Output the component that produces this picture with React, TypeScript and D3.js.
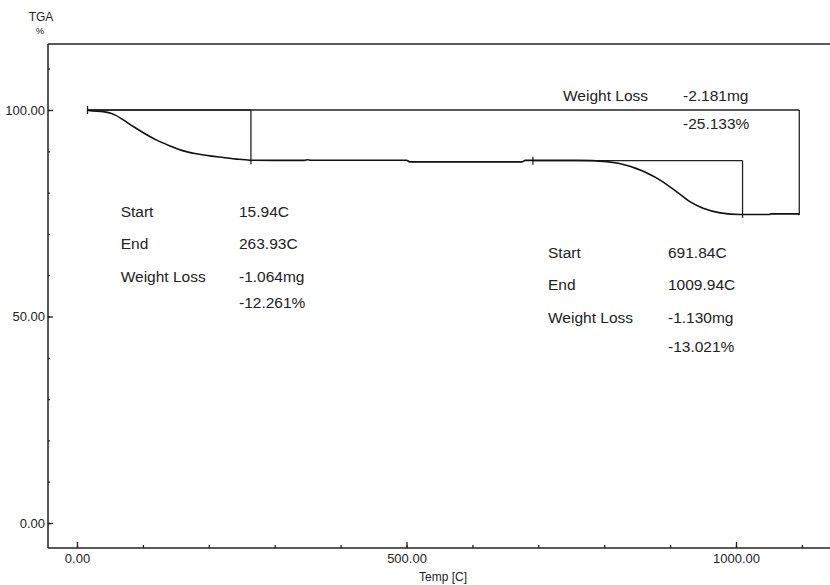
import * as d3 from "d3";
import { useRef, useEffect } from "react";

// TGA curve: temperature [C] and weight [%]
const temps = [
  15.94, 19.7, 39.9, 55.1, 70.3, 85.4, 100.6, 120.9, 141.1, 161.3, 181.6, 201.8,
  222, 242.3, 262.5, 300, 345, 350, 355, 500, 505, 675, 680, 760, 804, 839, 880,
  910, 930, 950, 976, 1006, 1050, 1053, 1094, 1096,
];
const weights = [
  100, 99.8, 99.6, 99.0, 97.6, 96.0, 94.5, 92.7, 91.3, 90.1, 89.4, 88.9, 88.5,
  88.1, 87.85, 87.8, 87.8, 87.95, 87.85, 87.85, 87.45, 87.45, 87.8, 87.8, 87.5,
  86.4, 83.5, 80.2, 77.8, 76.2, 75.1, 74.7, 74.7, 74.85, 74.85, 74.6,
];

// step analysis
const stepStart = [15.94, 691.84];
const stepEnd = [263.93, 1009.94];
const stepLevel = [100, 87.739];
const stepLossPct = [12.261, 13.021];
const stepStartLabel = ["15.94C", "691.84C"];
const stepEndLabel = ["263.93C", "1009.94C"];
const stepLossMg = ["-1.064mg", "-1.130mg"];
const stepLossPctLabel = ["-12.261%", "-13.021%"];
const totalEnd = 1096;
const totalLossPct = 25.133;
const totalLossMg = "-2.181mg";
const totalLossPctLabel = "-25.133%";

const xMajor = [0, 500, 1000];
const xMinor = d3.range(0, 1101, 100);
const yMajor = [0, 50, 100];
const yMinor = d3.range(0, 111, 10);

const FONT = "'Liberation Sans', Arial, sans-serif";
const INK = "#222";

export default function App() {
  const width = 830;
  const height = 585;
  const left = 48;
  const top = 44;
  const bottom = 548;

  const x = d3.scaleLinear([0, 1000], [77, 736]);
  const y = d3.scaleLinear([0, 100], [523, 110]);

  const gx = useRef<SVGGElement>(null);
  const gxm = useRef<SVGGElement>(null);
  const gy = useRef<SVGGElement>(null);
  const gym = useRef<SVGGElement>(null);

  useEffect(() => {
    const fmt = d3.format(".2f");
    const style = (g: d3.Selection<any, any, any, any>) => {
      g.select(".domain").remove();
      g.selectAll("line").attr("stroke", INK).attr("stroke-width", 1.3);
      g.selectAll("text")
        .attr("fill", INK)
        .style("font-family", FONT)
        .style("font-size", "13px");
    };
    d3.select(gx.current)
      .call(d3.axisBottom(x).tickValues(xMajor).tickSize(-6).tickPadding(5).tickFormat((d) => fmt(+d)))
      .call(style);
    d3.select(gx.current).selectAll("text").attr("dy", "0.8em");
    d3.select(gxm.current)
      .call(d3.axisBottom(x).tickValues(xMinor).tickSize(-3).tickFormat(() => ""))
      .call(style);
    d3.select(gy.current)
      .call(d3.axisLeft(y).tickValues(yMajor).tickSize(-5).tickPadding(3).tickFormat((d) => fmt(+d)))
      .call(style);
    d3.select(gym.current)
      .call(d3.axisLeft(y).tickValues(yMinor).tickSize(-2).tickFormat(() => ""))
      .call(style);
  }, []);

  const line = d3
    .line<number>()
    .x((d) => x(d))
    .y((_, i) => y(weights[i]))
    .curve(d3.curveMonotoneX);

  const txt = { fontFamily: FONT, fontSize: 15.5, fill: INK } as const;

  return (
    <svg
      width={width}
      height={height}
      style={{ position: "absolute", left: 0, top: 0, background: "#fff" }}
    >
      <rect width={width} height={height} fill="#fff" />
      {/* frame */}
      <g stroke={INK} strokeWidth={1.5} fill="none">
        <line x1={left} x2={width} y1={top} y2={top} />
        <line x1={left} x2={left} y1={top} y2={bottom} />
        <line x1={left} x2={width} y1={bottom} y2={bottom} />
      </g>
      <g ref={gx} transform={`translate(0,${bottom})`} />
      <g ref={gxm} transform={`translate(0,${bottom})`} />
      <g ref={gy} transform={`translate(${left},0)`} />
      <g ref={gym} transform={`translate(${left},0)`} />

      <text x={41} y={21} textAnchor="middle" style={{ fontFamily: FONT, fontSize: 12, fill: INK }}>
        TGA
      </text>
      <text x={40} y={34} textAnchor="middle" style={{ fontFamily: FONT, fontSize: 9.5, fill: INK }}>
        %
      </text>
      <text x={443} y={581} textAnchor="middle" style={{ fontFamily: FONT, fontSize: 12, fill: INK }}>
        Temp [C]
      </text>

      {/* analysis lines */}
      <g stroke={INK} strokeWidth={1.3} fill="none">
        <line x1={x(stepStart[0])} x2={x(totalEnd)} y1={y(100)} y2={y(100)} />
        <line x1={x(totalEnd)} x2={x(totalEnd)} y1={y(100)} y2={y(100 - totalLossPct) + 1} />
        {stepStart.map((s, i) => (
          <g key={i}>
            <line x1={x(s)} x2={x(stepEnd[i])} y1={y(stepLevel[i])} y2={y(stepLevel[i])} />
            <line x1={x(s)} x2={x(s)} y1={y(stepLevel[i]) - 4} y2={y(stepLevel[i]) + 4} />
            <line
              x1={x(stepEnd[i])}
              x2={x(stepEnd[i])}
              y1={y(stepLevel[i])}
              y2={y(stepLevel[i] - stepLossPct[i]) + 3.5}
            />
          </g>
        ))}
      </g>

      {/* curve */}
      <path d={line(temps) ?? ""} fill="none" stroke="#111" strokeWidth={1.6} />

      {/* step texts */}
      <g style={txt}>
        <text x={120.7} y={217}>Start</text>
        <text x={120.7} y={249}>End</text>
        <text x={120.7} y={282}>Weight Loss</text>
        <text x={239} y={217}>{stepStartLabel[0]}</text>
        <text x={239} y={249}>{stepEndLabel[0]}</text>
        <text x={239} y={282}>{stepLossMg[0]}</text>
        <text x={239} y={307.5}>{stepLossPctLabel[0]}</text>

        <text x={548} y={258}>Start</text>
        <text x={548} y={290}>End</text>
        <text x={548} y={323}>Weight Loss</text>
        <text x={668} y={258}>{stepStartLabel[1]}</text>
        <text x={668} y={290}>{stepEndLabel[1]}</text>
        <text x={668} y={323}>{stepLossMg[1]}</text>
        <text x={668} y={352}>{stepLossPctLabel[1]}</text>

        <text x={563} y={101}>Weight Loss</text>
        <text x={683} y={101}>{totalLossMg}</text>
        <text x={683} y={129}>{totalLossPctLabel}</text>
      </g>
    </svg>
  );
}
